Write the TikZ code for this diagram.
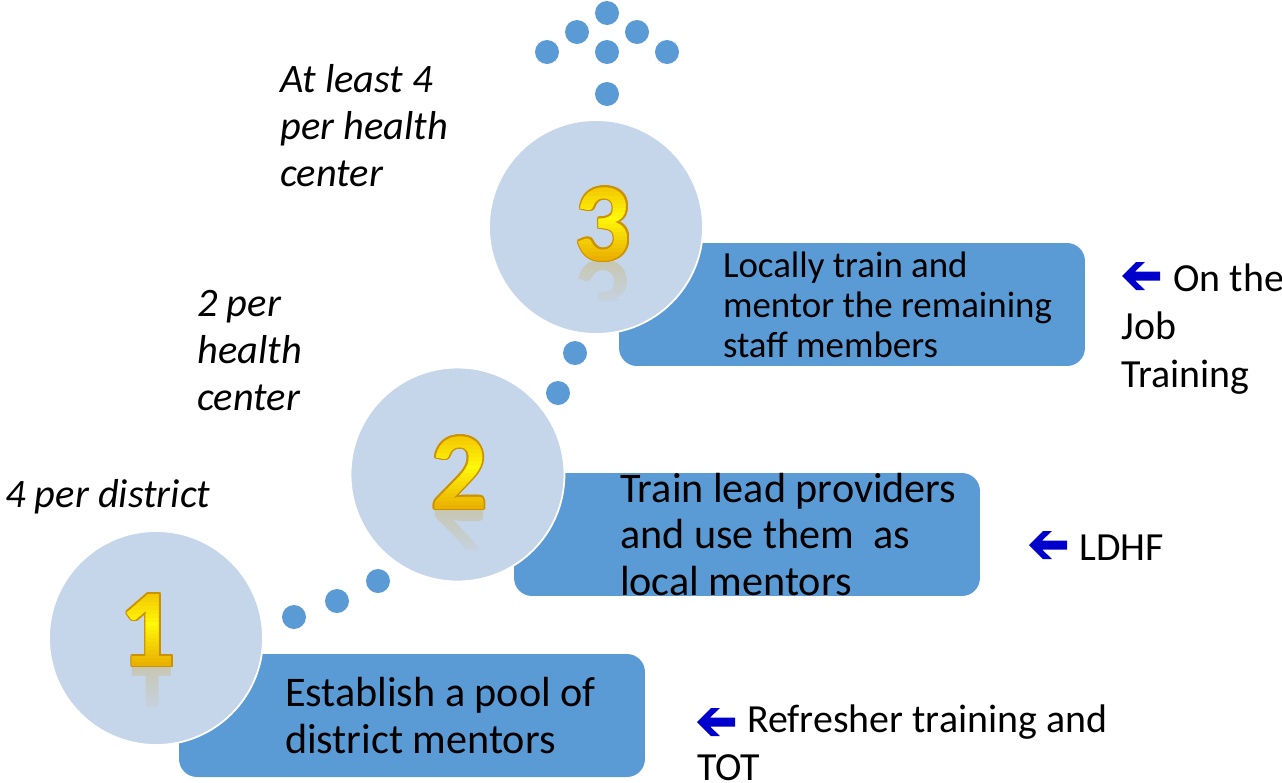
\documentclass[tikz,border=0pt]{standalone}
\usepackage{fontspec}
\setmainfont{Carlito}
\usepackage{contour}
\contourlength{0.9pt}
\usetikzlibrary{positioning,calc,fadings}

\definecolor{stepblue}{RGB}{91,155,213}
\definecolor{discblue}{RGB}{197,213,234}
\definecolor{arrowblue}{RGB}{0,0,204}
\definecolor{goldtop}{RGB}{242,196,0}
\definecolor{goldmid}{RGB}{255,248,10}
\definecolor{goldbot}{RGB}{232,170,0}
\definecolor{goldedge}{RGB}{204,146,0}

\tikzfading[name=fade down, top color=transparent!100, bottom color=transparent!0]

\tikzset{
  stepbox/.style={rectangle, rounded corners=0.36cm, fill=stepblue, minimum width=9.32cm, minimum height=2.46cm, inner sep=0pt},
  disc/.style={circle, fill=discblue, draw=white, line width=1pt, minimum size=4.28cm, inner sep=0pt},
  dot/.style={fill=stepblue},
  steptext/.style={align=left, inner sep=0pt, text=black},
  note/.style={anchor=base west, align=left, inner sep=0pt, font=\fontsize{23}{26.7}\selectfont\itshape},
  side/.style={anchor=base west, align=left, inner sep=0pt, font=\fontsize{22.7}{27.3}\selectfont},
  digit/.style={anchor=base, inner sep=0pt, font=\fontsize{63}{63}\selectfont\bfseries},
  pics/backarrow/.style={code={
    \fill[arrowblue] (-19,0) -- (-5,-14) -- (4,-14) -- (-6,-4.5) -- (19,-4.5) -- (19,4.5) -- (-6,4.5) -- (4,14) -- (-5,14) -- cycle;}}
}

% golden figure with its mirror image: x, baseline, figure
\newcommand{\golddigit}[3]{%
  \begin{scope}[shift={(#1,#2)}]
    \begin{scope}
      \clip (-45,1) rectangle (45,40);
      \node[digit, text=goldbot!80!gray, opacity=0.26, yscale=-1, transform shape] at (0,0) {#3};
    \end{scope}
    \fill[discblue, path fading=fade down] (-46,1) rectangle (46,52); % mirror fades out
    \node[digit, text=goldtop] at (0,0) {\contour{goldedge}{#3}}; % rim
    \foreach \k in {0,...,19}{
      \pgfmathtruncatemacro{\pc}{\k<8 ? 100*\k/8 : 100*(19-\k)/11}
      \ifnum\k<8 \colorlet{band}{goldmid!\pc!goldtop}\else\colorlet{band}{goldmid!\pc!goldbot}\fi
      \begin{scope}
        \clip (-45,-76+4*\k) rectangle (45,-71+4*\k);
        \node[digit, text=band] at (0,0) {#3};
      \end{scope}
    }
  \end{scope}
}

\begin{document}
\begin{tikzpicture}[x=0.02cm, y=-0.02cm]
\useasboundingbox (0,0) rectangle (1282,782);

% steps
\node[stepbox] (box1) at (412,715.5) {};
\node[stepbox] (box2) at (747,534.5) {};
\node[stepbox] (box3) at (852,304.5) {};
\node[steptext, right=2.12cm of box1.west, font=\fontsize{24}{27}\selectfont] (txt1) {Establish a pool of\\district mentors};
\node[steptext, right=2.12cm of box2.west, font=\fontsize{24}{26.3}\selectfont] (txt2) {Train lead providers\\and use them~ as\\local mentors};
\node[steptext, right=2.08cm of box3.west, font=\fontsize{21}{22.8}\selectfont] (txt3) {Locally train and\\mentor the remaining\\staff members};

% numbered discs
\node[disc] (disc1) at (156,638) {};
\node[disc] (disc2) at (457.5,474.5) {};
\node[disc] (disc3) at (596,227) {};
\golddigit{148}{666}{1}
\golddigit{459.5}{509}{2}
\golddigit{603}{260}{3}

% dotted trail
\foreach \p in {(294,617),(337,601),(378,581),(558,393),(575,353),(607,94),
                (547,52),(607,52),(667,52),(577,32),(637,32),(607,13)}
  \fill[dot] \p circle (0.24cm);

% how many (base = last line)
\node[note] (many1) at (5,507) {4 per district};
\node[note] (many2) at (197,410) {2 per\\health\\center};
\node[note] (many3) at (280,186) {At least 4\\per health\\center};

% how trained
\node[side] (how1) at (697,780) {\hspace*{1.0cm}Refresher training and\\TOT};
\node[side] (how2) at (1030,560) {\hspace*{0.98cm}LDHF};
\node[side] (how3) at (1121,387) {\hspace*{1.04cm}On the\\Job\\Training};
\pic at (716,722) {backarrow};
\pic at (1048,545) {backarrow};
\pic at (1141,276) {backarrow};
\end{tikzpicture}
\end{document}
